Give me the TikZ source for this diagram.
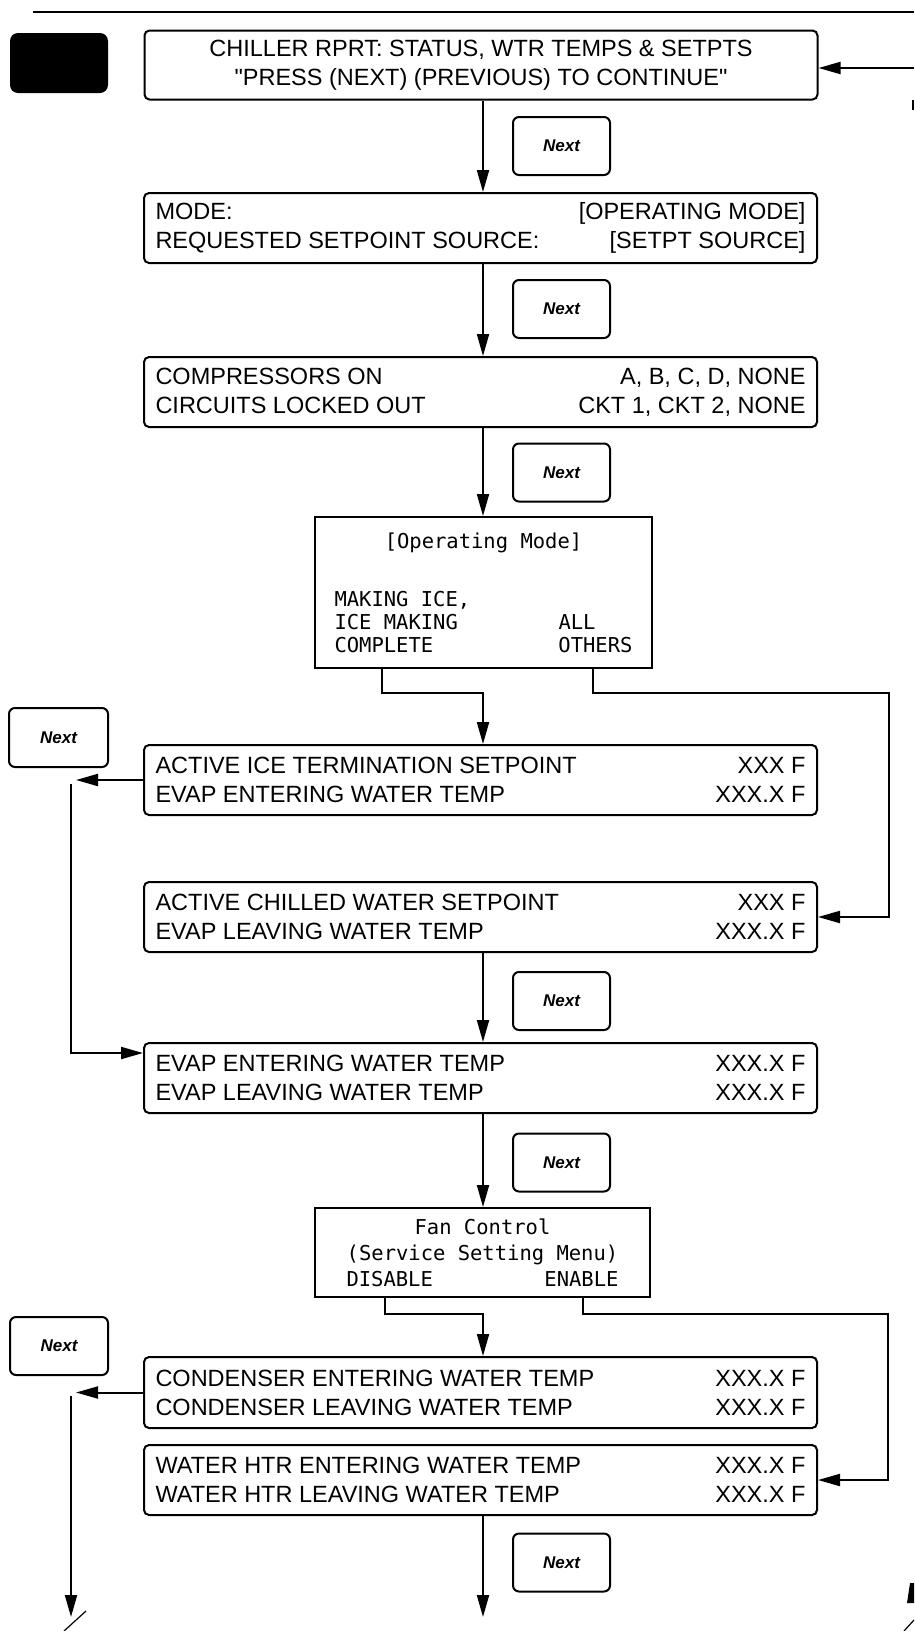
\documentclass[tikz,border=0pt]{standalone}
\usepackage{fontspec}
\setmainfont{Liberation Sans}
\newfontfamily\boxfont{Liberation Sans}
\newfontfamily\lcdfont{DejaVu Sans Mono}
\usetikzlibrary{arrows.meta}
\newcommand{\tworow}[2]{\makebox[650pt][s]{#1\hfill #2}}
\begin{document}
\begin{tikzpicture}[x=1pt,y=-1pt,
  wbox/.style={draw, line width=2pt, rounded corners=5pt, minimum width=673pt,
    minimum height=70pt, inner sep=0pt, align=center,
    font=\boxfont\fontsize{23.5pt}{29pt}\selectfont},
  lcdbox/.style={draw, line width=2pt, inner xsep=0pt, inner ysep=0pt, align=center,
    font=\lcdfont\fontsize{20.5pt}{23pt}\selectfont},
  nextbox/.style={draw, line width=2pt, rounded corners=6pt, minimum width=97pt,
    minimum height=58pt, inner sep=0pt, font=\boxfont\fontsize{17pt}{20pt}\selectfont\bfseries\itshape},
  arr/.style={line width=2pt, -{Triangle[length=22pt,width=12pt]}}
]
\useasboundingbox (0,0) rectangle (914,1631);
\fill[white] (0,0) rectangle (914,1631);

% header rule and black tab
\draw[line width=2.5pt] (33,12) -- (914,12);
\fill[rounded corners=8pt] (10,33) rectangle (108,93);

% main boxes
\node[wbox, minimum height=69pt] (b1) at (481,65)
  {CHILLER RPRT: STATUS, WTR TEMPS \& SETPTS\\"PRESS (NEXT) (PREVIOUS) TO CONTINUE"};
\node[wbox] (b2) at (480.5,228)
  {\tworow{MODE:}{[OPERATING MODE]}\\\tworow{REQUESTED SETPOINT SOURCE:}{[SETPT SOURCE]}};
\node[wbox] (b3) at (480.5,392)
  {\tworow{COMPRESSORS ON}{A, B, C, D, NONE}\\\tworow{CIRCUITS LOCKED OUT}{CKT 1, CKT 2, NONE}};
\node[lcdbox, minimum width=337pt, minimum height=151pt] (b4) at (483.5,592.5)
  {[Operating Mode]\\[35pt]\makebox[298pt][l]{MAKING ICE,}\\
   \makebox[298pt][s]{ICE MAKING\hfill\makebox[74pt][l]{ALL}}\\
   \makebox[298pt][s]{COMPLETE\hfill OTHERS}};
\node[wbox] (b5) at (480.5,780)
  {\tworow{ACTIVE ICE TERMINATION SETPOINT}{XXX F}\\\tworow{EVAP ENTERING WATER TEMP}{XXX.X F}};
\node[wbox] (b6) at (480.5,917)
  {\tworow{ACTIVE CHILLED WATER SETPOINT}{XXX F}\\\tworow{EVAP LEAVING WATER TEMP}{XXX.X F}};
\node[wbox] (b7) at (480.5,1078)
  {\tworow{EVAP ENTERING WATER TEMP}{XXX.X F}\\\tworow{EVAP LEAVING WATER TEMP}{XXX.X F}};
\node[lcdbox, minimum width=335pt, minimum height=89pt,
  font=\lcdfont\fontsize{20.5pt}{26pt}\selectfont] (b8) at (482.5,1252.5)
  {Fan Control\\(Service Setting Menu)\\\makebox[272pt][s]{DISABLE\hfill ENABLE}};
\node[wbox, minimum height=71pt] (b9) at (480.5,1392.5)
  {\tworow{CONDENSER ENTERING WATER TEMP}{XXX.X F}\\\tworow{CONDENSER LEAVING WATER TEMP}{XXX.X F}};
\node[wbox] (b10) at (480.5,1480)
  {\tworow{WATER HTR ENTERING WATER TEMP}{XXX.X F}\\\tworow{WATER HTR LEAVING WATER TEMP}{XXX.X F}};

% Next keys
\node[nextbox] (n1) at (561.5,146) {Next};
\node[nextbox] (n2) at (561.5,309) {Next};
\node[nextbox] (n3) at (561.5,472.5) {Next};
\node[nextbox] (n4) at (561.5,1001) {Next};
\node[nextbox] (n5) at (561.5,1162.5) {Next};
\node[nextbox] (n6) at (561.5,1562.5) {Next};
\node[nextbox, minimum width=99pt, minimum height=59pt] (nl1) at (58.5,737.5) {Next};
\node[nextbox, minimum width=98pt, minimum height=58pt] (nl2) at (59,1346) {Next};

% helper coordinates
\coordinate (mx) at (483,0);
\coordinate (e0) at (914,68);
\coordinate (l1) at (382,0);
\coordinate (j1) at (483,693);
\coordinate (r1) at (593,0);
\coordinate (j2) at (889,693);
\coordinate (t1) at (76,780);
\coordinate (v1) at (71,784);
\coordinate (l2) at (385,0);
\coordinate (j3) at (483,1314);
\coordinate (r2) at (583,0);
\coordinate (j4) at (888,1314);
\coordinate (t2) at (76,1392.5);
\coordinate (v2) at (71,1396);
\coordinate (e1) at (71,1617);
\coordinate (e2) at (483,1617);

% connectors
\draw[arr] (e0) -- (e0 -| b1.east);
\draw[arr] (b1.south -| mx) -- (b2.north -| mx);
\draw[arr] (b2.south -| mx) -- (b3.north -| mx);
\draw[arr] (b3.south -| mx) -- (b4.north -| mx);
\draw[arr] (b4.south -| l1) |- (j1) -- (b5.north -| j1);
\draw[arr] (b4.south -| r1) |- (j2) |- (b6.east);
\draw[arr] (b5.west) -- (t1);
\draw[arr] (v1) |- ([yshift=25pt]b7.west);
\draw[arr] (b6.south -| mx) -- (b7.north -| mx);
\draw[arr] (b7.south -| mx) -- (b8.north -| mx);
\draw[arr] (b8.south -| l2) |- (j3) -- (b9.north -| j3);
\draw[arr] (b8.south -| r2) |- (j4) |- (b10.east);
\draw[arr] (b9.west) -- (t2);
\draw[arr] (v2) -- (e1);
\draw[arr] (b10.south -| mx) -- (e2);

% page-edge fragments
\draw[line width=1.5pt] (913,100) -- (913,110);
\draw[line width=1.2pt] (64,1631) -- (86,1611);
\fill (910,1583) -- (914,1583) -- (914,1603) -- (907,1603) -- cycle;
\draw[line width=1.2pt] (904,1631) -- (914,1620);
\end{tikzpicture}
\end{document}
